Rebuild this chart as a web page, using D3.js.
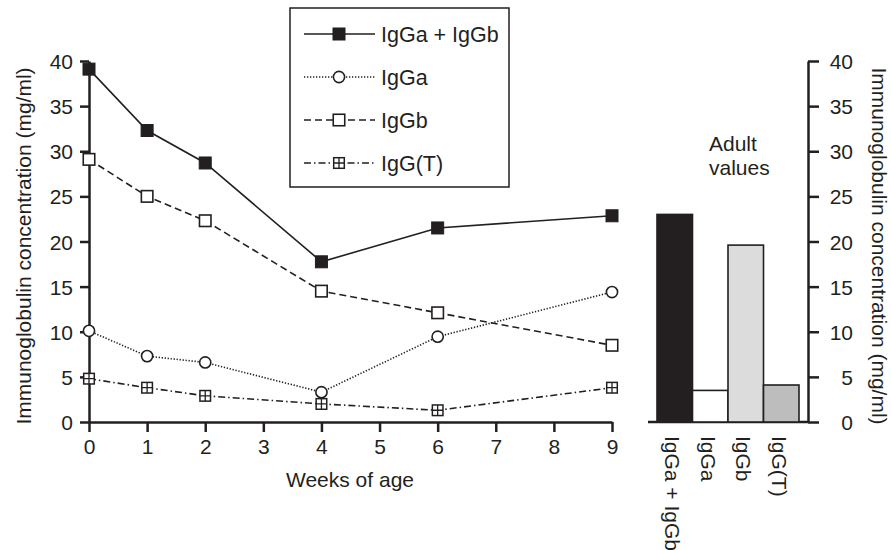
<!DOCTYPE html>
<html>
<head>
<meta charset="utf-8">
<script src="https://cdn.jsdelivr.net/npm/d3@7"></script>
<style>
  body { margin: 0; background: #fff; }
  svg { font-family: "Liberation Sans", Arial, sans-serif; }
  .axis path, .axis line { stroke: #231f20; stroke-width: 2.5; }
  .axis text { font-size: 21px; fill: #231f20; }
</style>
</head>
<body>
<svg id="chart" width="891" height="550"></svg>
<script>
const weeks = [0, 1, 2, 4, 6, 9];
const totalIgG = [39.1, 32.3, 28.7, 17.75, 21.5, 22.85];
const igGa = [10.1, 7.3, 6.6, 3.3, 9.45, 14.4];
const igGb = [29.1, 25.0, 22.3, 14.5, 12.1, 8.5];
const igGT = [4.8, 3.8, 2.9, 2.0, 1.3, 3.8];

const adultCategories = ["IgGa + IgGb", "IgGa", "IgGb", "IgG(T)"];
const adultValues = [23.0, 3.5, 19.6, 4.1];

const weekTicks = [0, 1, 2, 3, 4, 5, 6, 7, 8, 9];
const concTicks = [0, 5, 10, 15, 20, 25, 30, 35, 40];

const ink = "#231f20";
const barFills = ["#231f20", "#ffffff", "#dcdcdc", "#bdbdbd"];

// series styles: line dash + marker type
const series = [
  { name: "IgGa + IgGb", values: totalIgG, dash: null, marker: "filled" },
  { name: "IgGa", values: igGa, dash: "1.3,1.7", marker: "circle" },
  { name: "IgGb", values: igGb, dash: "7,4", marker: "square" },
  { name: "IgG(T)", values: igGT, dash: "7,3,1.5,3", marker: "hatch" }
];

const svg = d3.select("#chart");

const x = d3.scaleLinear().domain([0, 9]).range([89, 612]);
const y = d3.scaleLinear().domain([0, 40]).range([422, 61]);
const xBar = d3.scaleBand().domain(adultCategories).range([657, 799]).padding(0);

function drawMarker(g, type, cx, cy) {
  const s = 11.5;
  if (type === "filled") {
    g.append("rect").attr("x", cx - 6).attr("y", cy - 6).attr("width", 12).attr("height", 12)
      .attr("fill", ink).attr("stroke", ink).attr("stroke-width", 1);
  } else if (type === "circle") {
    g.append("circle").attr("cx", cx).attr("cy", cy).attr("r", 5.6)
      .attr("fill", "#fff").attr("stroke", ink).attr("stroke-width", 1.6);
  } else if (type === "square") {
    g.append("rect").attr("x", cx - s / 2).attr("y", cy - s / 2).attr("width", s).attr("height", s)
      .attr("fill", "#fff").attr("stroke", ink).attr("stroke-width", 1.6);
  } else {
    const h = 5.3;
    g.append("rect").attr("x", cx - h).attr("y", cy - h).attr("width", 2 * h).attr("height", 2 * h)
      .attr("fill", "#fff").attr("stroke", ink).attr("stroke-width", 1.5);
    g.append("path").attr("d", `M${cx - h},${cy}H${cx + h}M${cx},${cy - h}V${cy + h}`)
      .attr("stroke", ink).attr("stroke-width", 1.3);
  }
}

// left axis
svg.append("g").attr("class", "axis").attr("transform", "translate(89,0)")
  .call(d3.axisLeft(y).tickValues(concTicks).tickSize(9).tickSizeOuter(0).tickPadding(7))
  .call(g => g.selectAll("text").attr("dy", "0.36em"));

// bottom axis
svg.append("g").attr("class", "axis").attr("transform", "translate(0,422)")
  .call(d3.axisBottom(x).tickValues(weekTicks).tickFormat(d3.format("d")).tickSize(10).tickSizeOuter(0).tickPadding(7));

// right axis
svg.append("g").attr("class", "axis").attr("transform", "translate(808,0)")
  .call(d3.axisRight(y).tickValues(concTicks).tickSize(11).tickSizeOuter(0))
  .call(g => g.selectAll("text").attr("x", 45).attr("text-anchor", "end").attr("dy", "0.36em"));

// baseline of the adult bars
svg.append("line").attr("x1", 648).attr("x2", 808).attr("y1", y(0)).attr("y2", y(0))
  .attr("stroke", ink).attr("stroke-width", 2.5);

// bars
svg.append("g").selectAll("rect").data(adultValues).join("rect")
  .attr("x", (d, i) => xBar(adultCategories[i]))
  .attr("y", d => y(d))
  .attr("width", xBar.bandwidth())
  .attr("height", d => y(0) - y(d))
  .attr("fill", (d, i) => barFills[i])
  .attr("stroke", ink).attr("stroke-width", 1.6);

// bar labels, rotated
svg.append("g").selectAll("text").data(adultCategories).join("text")
  .attr("transform", d => `translate(${xBar(d) + xBar.bandwidth() / 2 - 2},436) rotate(90)`)
  .attr("dominant-baseline", "central")
  .attr("font-size", 21).attr("fill", ink)
  .text(d => d);

// "Adult values"
svg.append("text").attr("x", 709).attr("y", 151).attr("font-size", 21).attr("fill", ink).text("Adult");
svg.append("text").attr("x", 709).attr("y", 175).attr("font-size", 21).attr("fill", ink).text("values");

// lines
const line = d3.line().x((d, i) => x(weeks[i])).y(d => y(d));
series.forEach(s => {
  svg.append("path").datum(s.values)
    .attr("d", line)
    .attr("fill", "none").attr("stroke", ink).attr("stroke-width", 1.6)
    .attr("stroke-dasharray", s.dash);
});
series.forEach(s => {
  const g = svg.append("g");
  s.values.forEach((v, i) => drawMarker(g, s.marker, x(weeks[i]), y(v)));
});

// axis titles
svg.append("text").attr("transform", "translate(23,246) rotate(-90)")
  .attr("text-anchor", "middle").attr("dominant-baseline", "central")
  .attr("font-size", 21).attr("fill", ink)
  .text("Immunoglobulin concentration (mg/ml)");
svg.append("text").attr("transform", "translate(879,246) rotate(90)")
  .attr("text-anchor", "middle").attr("dominant-baseline", "central")
  .attr("font-size", 21).attr("fill", ink)
  .text("Immunoglobulin concentration (mg/ml)");
svg.append("text").attr("x", 350).attr("y", 487)
  .attr("text-anchor", "middle").attr("font-size", 21).attr("fill", ink)
  .text("Weeks of age");

// legend
const legend = svg.append("g");
legend.append("rect").attr("x", 290).attr("y", 8).attr("width", 219).attr("height", 179)
  .attr("fill", "#fff").attr("stroke", ink).attr("stroke-width", 1.5);
series.forEach((s, i) => {
  const ly = 34 + i * 43;
  legend.append("line").attr("x1", 304).attr("x2", 375).attr("y1", ly).attr("y2", ly)
    .attr("stroke", ink).attr("stroke-width", 1.6).attr("stroke-dasharray", s.dash);
  drawMarker(legend, s.marker, 339, ly);
  legend.append("text").attr("x", 381).attr("y", ly).attr("dy", "0.36em")
    .attr("font-size", 21.5).attr("fill", ink).text(s.name);
});
</script>
</body>
</html>
